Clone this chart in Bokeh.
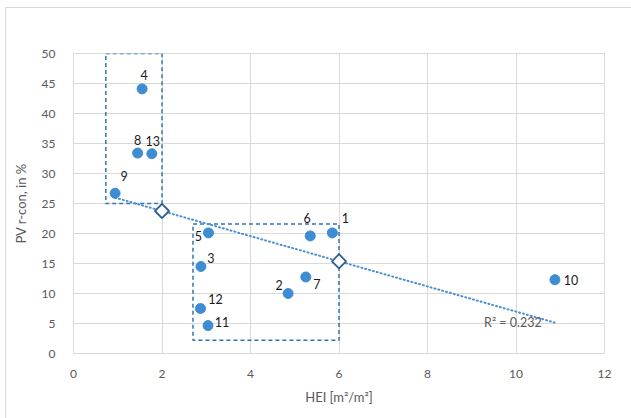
import numpy as np
from bokeh.plotting import figure
from bokeh.models import ColumnDataSource, FixedTicker, Label
from bokeh.core.properties import value
from bokeh.embed import file_html
from bokeh.resources import INLINE

# Sample sites: HEI vs PV r-con
site_ids = ["1", "2", "3", "4", "5", "6", "7", "8", "9", "10", "11", "12", "13"]
hei = [5.85, 4.85, 2.88, 1.55, 3.05, 5.35, 5.25, 1.45, 0.94, 10.88, 3.04, 2.87, 1.77]
pv_rcon = [20.1, 10.0, 14.5, 44.1, 20.1, 19.6, 12.75, 33.4, 26.7, 12.3, 4.65, 7.5, 33.3]

# Highlighted groups (HEI range, PV r-con range)
group_hei_lo = [0.73, 2.7]
group_hei_hi = [2.0, 6.0]
group_pv_lo = [25.0, 2.2]
group_pv_hi = [50.0, 21.6]

# HEI thresholds marked on the trend line
threshold_hei = [2.0, 6.0]
r2_text = "R\u00b2 = 0.232"

x_ticks = [0, 2, 4, 6, 8, 10, 12]
y_ticks = [0, 5, 10, 15, 20, 25, 30, 35, 40, 45, 50]

# label placement (screen offsets from each point)
label_dx = [13, -9, 10, 2, -10, -3, 11, 0, 9, 16, 14, 15, 1]
label_dy = [-15, -9, -9, -14, 3, -18, 7, -13, -17, 0, -4, -10, -13]

FONT = "Lato"
GRAY = "#595959"

# least-squares trend line across the data range
xs = np.array(hei)
ys = np.array(pv_rcon)
slope, intercept = np.polyfit(xs, ys, 1)
trend_x = [xs.min(), xs.max()]
trend_y = [slope * v + intercept for v in trend_x]
thr_y = [slope * v + intercept for v in threshold_hei]

p = figure(width=626, height=411, x_range=(0, 12), y_range=(0, 50),
           output_backend="svg", toolbar_location=None,
           min_border_left=67, min_border_right=28,
           min_border_top=45, min_border_bottom=66)
p.styles = {"margin-left": "5px", "margin-top": "7px",
            "border-left": "1px solid #d9d9d9", "border-top": "1px solid #d9d9d9"}

p.background_fill_color = "white"
p.border_fill_color = "white"
p.outline_line_color = "#d9d9d9"
p.outline_line_width = 1

for ax in (p.xaxis, p.yaxis):
    ax.axis_line_color = None
    ax.major_tick_line_color = None
    ax.minor_tick_line_color = None
    ax.major_label_text_color = GRAY
    ax.major_label_text_font = FONT
    ax.major_label_text_font_size = "12px"
    ax.axis_label_text_color = GRAY
    ax.axis_label_text_font = FONT
    ax.axis_label_text_font_size = "13px"
    ax.axis_label_text_font_style = "normal"

p.xaxis.ticker = FixedTicker(ticks=x_ticks)
p.yaxis.ticker = FixedTicker(ticks=y_ticks)
p.xaxis.major_label_standoff = 10
p.yaxis.major_label_standoff = 12
p.xaxis.axis_label = "HEI [m\u00b2/m\u00b2]"
p.yaxis.axis_label = "PV r-con, in %"
p.xaxis.axis_label_standoff = 8
p.yaxis.axis_label_standoff = 10

p.xgrid.ticker = FixedTicker(ticks=x_ticks)
p.ygrid.ticker = FixedTicker(ticks=y_ticks)
p.grid.grid_line_color = "#d9d9d9"
p.grid.grid_line_width = 1

# dashed group boxes
p.quad(left=group_hei_lo, right=group_hei_hi, bottom=group_pv_lo, top=group_pv_hi,
       fill_alpha=0, line_color="#2E75B6", line_width=1.5, line_dash="4 3")

# trend line
p.line(trend_x, trend_y, line_color="#4A90D0", line_width=2,
       line_dash="1 3", line_cap="round")

# points
src = ColumnDataSource(dict(x=hei, y=pv_rcon, lbl=site_ids, dx=label_dx, dy=label_dy))
p.scatter("x", "y", source=src, size=10, fill_color="#3E8DD2", line_color="#3E8DD2")
p.text("x", "y", text="lbl", source=src, x_offset="dx", y_offset="dy",
       text_align="center", text_baseline="middle", text_font=value(FONT),
       text_font_size="12.5px", text_color="#1a1a1a")

# threshold markers (rotated squares)
p.scatter(threshold_hei, thr_y, marker="square", size=10, angle=np.pi / 4,
          fill_color="white", line_color="#2F5D8F", line_width=1.8)

p.add_layout(Label(x=9.93, y=5.1, text=r2_text, text_align="center",
                   text_baseline="middle", text_color=GRAY,
                   text_font=FONT, text_font_size="12.5px"))

open("out.html", "w").write(file_html(p, INLINE))
